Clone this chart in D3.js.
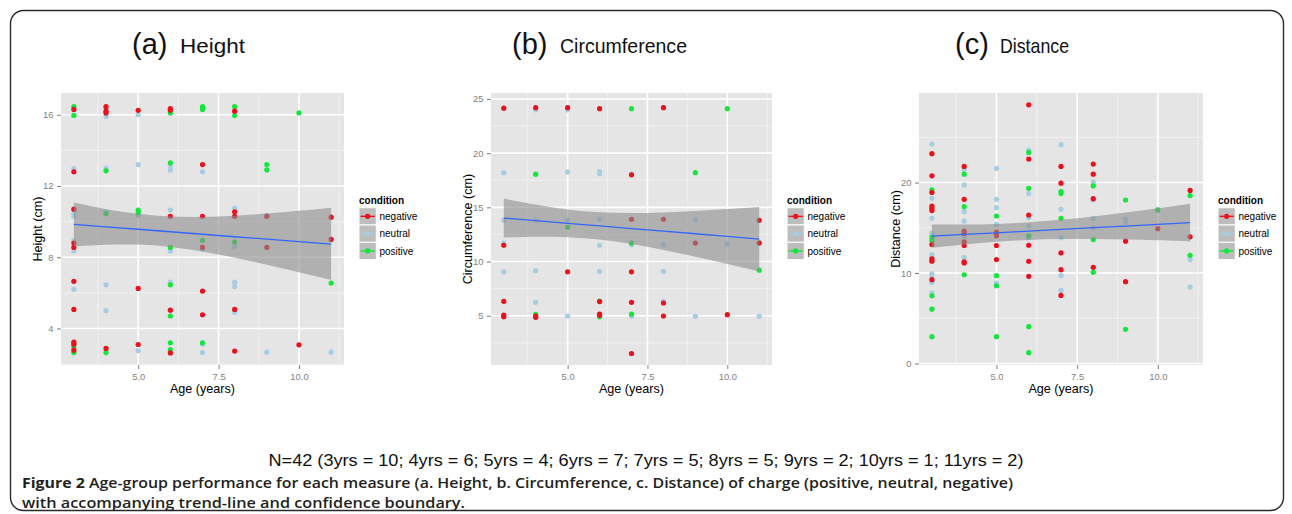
<!DOCTYPE html>
<html><head><meta charset="utf-8">
<script src="https://cdn.jsdelivr.net/npm/d3@7"></script>
<style>body{margin:0;background:#fff} svg{display:block}</style>
</head><body><svg id="chart" width="1292" height="514"></svg>
<script>
// ---------------- DATA ----------------
const conditions = ["negative", "neutral", "positive"];
const conditionColors = ["#e8111c", "#a6cde0", "#14e63c"];
const ageDomain = [2.6, 11.4];
const ageTicks = [5.0, 7.5, 10.0];
const ageMinor = [3.75, 6.25, 8.75, 11.25];

const heightTicks = [4, 8, 12, 16];
const heightMinor = [2, 6, 10, 14];
const circTicks = [5, 10, 15, 20, 25];
const circMinor = [2.5, 7.5, 12.5, 17.5, 22.5];
const distTicks = [0, 10, 20];
const distMinor = [5, 15, 25];

// Height (cm): [age, value]
const heightNegative = [[3,16.3],[3,12.8],[3,10.7],[3,8.8],[3,8.55],[3,6.65],[3,5.07],[3,3.23],[3,3.12],[3,2.78],
  [4,16.45],[4,16.2],[4,16.1],[4,2.88],[5,16.25],[5,6.25],[5,3.1],[6,16.35],[6,16.25],[6,10.3],[6,5.03],[6,2.63],
  [7,13.2],[7,10.3],[7,8.55],[7,6.1],[7,4.77],[8,16.2],[8,10.55],[8,10.3],[8,5.07],[8,2.73],[9,10.3],[9,8.55],
  [10,3.08],[11,10.25],[11,9.0]];
const heightNeutral = [[3,12.98],[3,10.45],[3,10.3],[3,8.95],[3,8.35],[3,6.2],[4,15.9],[4,13.0],[4,10.55],[4,6.45],[4,5.0],
  [5,16.0],[5,13.2],[5,10.35],[5,2.75],[6,13.15],[6,12.9],[6,10.65],[6,8.35],[6,6.6],[7,12.8],[7,8.45],[7,3.12],[7,2.65],
  [8,10.75],[8,8.6],[8,6.6],[8,6.35],[8,4.9],[9,10.35],[9,2.67],[11,2.67]];
const heightPositive = [[3,16.45],[3,15.96],[3,2.97],[3,2.65],[4,12.85],[4,10.45],[4,2.65],[5,10.65],[5,10.5],
  [6,16.1],[6,13.3],[6,8.55],[6,6.45],[6,4.7],[6,3.2],[6,2.82],[7,16.45],[7,16.3],[7,8.95],[7,3.2],
  [8,16.45],[8,15.95],[8,8.85],[9,13.2],[9,12.9],[10,16.1],[11,6.55]];

// Circumference (cm)
const circNegative = [[3,24.15],[3,11.5],[3,6.33],[3,5.06],[3,4.9],[4,24.2],[4,4.97],[4,4.85],[5,24.2],[5,9.05],
  [6,24.1],[6,6.3],[6,5.15],[6,5.03],[7,18.0],[7,13.9],[7,9.05],[7,6.23],[7,1.51],[8,24.2],[8,13.9],[8,6.17],[8,4.97],
  [9,11.7],[10,5.09],[11,13.8],[11,11.7]];
const circNeutral = [[3,18.2],[3,13.8],[3,11.7],[3,9.04],[4,24.0],[4,18.1],[4,13.8],[4,9.15],[4,6.23],[5,24.0],[5,18.25],
  [5,13.8],[5,4.97],[6,18.3],[6,18.1],[6,13.9],[6,11.5],[6,9.1],[7,18.1],[7,11.55],[7,4.94],[8,11.55],[8,9.1],[8,6.33],
  [9,13.9],[9,4.94],[10,11.6],[11,11.75],[11,4.94]];
const circPositive = [[4,18.05],[4,5.12],[5,13.15],[6,6.35],[6,4.9],[7,24.1],[7,11.7],[7,5.15],[9,18.2],[10,24.1],[11,9.2]];

// Distance (cm)
const distNegative = [[3,23.19],[3,20.74],[3,18.9],[3,17.4],[3,17.15],[3,16.9],[3,13.15],[3,11.56],[3,11.3],[3,9.26],
  [4,21.78],[4,18.15],[4,14.63],[4,14.37],[4,13.44],[4,13.04],[4,11.22],[4,11.11],[5,14.52],[5,14.33],[5,14.11],[5,13.04],[5,11.48],
  [6,28.59],[6,22.59],[6,16.41],[6,13.07],[6,11.3],[6,9.63],[7,21.78],[7,19.93],[7,12.22],[7,10.37],[7,7.52],
  [8,22.04],[8,20.93],[8,18.22],[8,10.63],[9,13.52],[9,9.04],[10,14.9],[11,19.13],[11,14.0]];
const distNeutral = [[3,24.26],[3,18.26],[3,16.04],[3,14.44],[3,14.26],[3,12.04],[3,11.85],[3,9.9],[3,9.63],[3,9.1],[3,8.96],[3,7.78],
  [4,21.48],[4,19.74],[4,16.78],[4,15.74],[4,14.07],[4,11.74],[5,21.56],[5,18.15],[5,17.22],[5,15.37],[5,8.89],
  [6,23.59],[6,18.78],[6,16.11],[6,15.19],[6,13.89],[7,24.19],[7,17.04],[7,13.89],[7,9.7],[7,8.07],
  [8,20.07],[8,18.07],[8,16.04],[8,15.0],[9,15.93],[9,15.63],[10,17.05],[11,11.48],[11,8.44]];
const distPositive = [[3,19.19],[3,13.96],[3,13.6],[3,7.48],[3,6.0],[3,2.96],[4,20.93],[4,17.33],[4,9.81],
  [5,16.3],[5,9.7],[5,8.59],[5,2.96],[6,23.33],[6,19.37],[6,14.11],[6,4.07],[6,1.19],[7,19.0],[7,18.78],[7,16.04],
  [8,19.63],[8,13.7],[8,10.07],[9,18.07],[9,3.78],[10,16.96],[11,18.56],[11,11.96]];

// Trend line and confidence band, read at each age
const trendAges = [3, 4, 5, 6, 7, 8, 9, 10, 11];
const heightFit   = [9.84, 9.70, 9.57, 9.43, 9.29, 9.15, 9.02, 8.88, 8.74];
const heightUpper = [11.07, 10.70, 10.44, 10.28, 10.26, 10.33, 10.46, 10.61, 10.78];
const heightLower = [8.61, 8.70, 8.71, 8.58, 8.32, 7.97, 7.58, 7.15, 6.72];
const circFit   = [14.01, 13.77, 13.52, 13.28, 13.04, 12.80, 12.56, 12.31, 12.07];
const circUpper = [15.81, 15.25, 14.80, 14.54, 14.47, 14.53, 14.67, 14.84, 15.04];
const circLower = [12.21, 12.29, 12.24, 12.02, 11.61, 11.07, 10.45, 9.78, 9.10];
const distFit   = [14.07, 14.26, 14.44, 14.63, 14.82, 15.01, 15.19, 15.38, 15.57];
const distUpper = [15.35, 15.36, 15.43, 15.61, 15.89, 16.25, 16.68, 17.15, 17.67];
const distLower = [12.79, 13.16, 13.45, 13.65, 13.75, 13.77, 13.70, 13.61, 13.47];

const panelLetters = ["(a)", "(b)", "(c)"];
const panelNames = ["Height", "Circumference", "Distance"];
const yTitles = ["Height (cm)", "Circumference (cm)", "Distance (cm)"];
const xTitle = "Age (years)";
const legendTitle = "condition";
const sampleNote = "N=42 (3yrs = 10; 4yrs = 6; 5yrs = 4; 6yrs = 7; 7yrs = 5; 8yrs = 5; 9yrs = 2; 10yrs = 1; 11yrs = 2)";
const captionBold = "Figure 2";
const captionLine1 = " Age-group performance for each measure (a. Height, b. Circumference, c. Distance) of charge (positive, neutral, negative)";
const captionLine2 = "with accompanying trend-line and confidence boundary.";

// ---------------- LAYOUT ----------------
const panels = [
  {x0: 61, x1: 344, yDomain: [1.95, 17.22], ticks: heightTicks, minor: heightMinor,
   series: [heightNeutral, heightPositive, heightNegative], fit: heightFit, up: heightUpper, lo: heightLower,
   tx: 132, tw: 48, nameLen: 65},
  {x0: 491, x1: 772, yDomain: [0.45, 25.55], ticks: circTicks, minor: circMinor,
   series: [circNeutral, circPositive, circNegative], fit: circFit, up: circUpper, lo: circLower,
   tx: 512, tw: 48, nameLen: 127},
  {x0: 919, x1: 1203, yDomain: [-0.17, 29.9], ticks: distTicks, minor: distMinor,
   series: [distNeutral, distPositive, distNegative], fit: distFit, up: distUpper, lo: distLower,
   tx: 955, tw: 45, nameLen: 69}
];
const seriesColorIdx = [1, 2, 0];
const yTop = 93, yBot = 365;

const svg = d3.select("#chart");
svg.append("rect").attr("width", 1292).attr("height", 514).attr("fill", "#fff");
svg.append("rect").attr("x", 10.5).attr("y", 10.5).attr("width", 1273).attr("height", 500)
  .attr("rx", 13).attr("fill", "none").attr("stroke", "#2a2a2a").attr("stroke-width", 1.4);

const axisFont = "'Liberation Sans', Arial, Helvetica, sans-serif";

panels.forEach((p, i) => {
  const g = svg.append("g");
  const x = d3.scaleLinear().domain(ageDomain).range([p.x0, p.x1]);
  const y = d3.scaleLinear().domain(p.yDomain).range([yBot, yTop]);

  // title
  svg.append("text").attr("x", p.tx).attr("y", 54).attr("font-family", axisFont).attr("fill", "#111")
    .attr("font-size", 29).text(panelLetters[i]);
  svg.append("text").attr("x", p.tx + p.tw).attr("y", 53).attr("font-family", axisFont).attr("fill", "#111")
    .attr("font-size", 21).attr("textLength", p.nameLen).attr("lengthAdjust", "spacingAndGlyphs").text(panelNames[i]);

  // panel background
  g.append("rect").attr("x", p.x0).attr("y", yTop).attr("width", p.x1 - p.x0).attr("height", yBot - yTop)
    .attr("fill", "#e5e5e5");
  // minor grid
  g.selectAll(".vmin").data(ageMinor.filter(d => d < ageDomain[1])).join("line")
    .attr("x1", d => x(d)).attr("x2", d => x(d)).attr("y1", yTop).attr("y2", yBot)
    .attr("stroke", "#f2f2f2").attr("stroke-width", 0.8);
  g.selectAll(".hmin").data(p.minor.filter(d => d > p.yDomain[0] && d < p.yDomain[1])).join("line")
    .attr("y1", d => y(d)).attr("y2", d => y(d)).attr("x1", p.x0).attr("x2", p.x1)
    .attr("stroke", "#f2f2f2").attr("stroke-width", 0.8);
  // major grid
  g.selectAll(".vmaj").data(ageTicks).join("line")
    .attr("x1", d => x(d)).attr("x2", d => x(d)).attr("y1", yTop).attr("y2", yBot)
    .attr("stroke", "#fff").attr("stroke-width", 1.6);
  g.selectAll(".hmaj").data(p.ticks).join("line")
    .attr("y1", d => y(d)).attr("y2", d => y(d)).attr("x1", p.x0).attr("x2", p.x1)
    .attr("stroke", "#fff").attr("stroke-width", 1.6);

  // points
  p.series.forEach((s, k) => {
    g.append("g").selectAll("circle").data(s).join("circle")
      .attr("cx", d => x(d[0])).attr("cy", d => y(d[1])).attr("r", 2.6)
      .attr("fill", conditionColors[seriesColorIdx[k]]);
  });

  // confidence band
  const bandData = trendAges.map((a, j) => ({a, lo: p.lo[j], up: p.up[j], f: p.fit[j]}));
  g.append("path").datum(bandData)
    .attr("d", d3.area().curve(d3.curveCatmullRom).x(d => x(d.a)).y0(d => y(d.lo)).y1(d => y(d.up)))
    .attr("fill", "#8c8c8c").attr("fill-opacity", 0.6);
  g.append("path").datum(bandData)
    .attr("d", d3.line().x(d => x(d.a)).y(d => y(d.f)))
    .attr("fill", "none").attr("stroke", "#3366ff").attr("stroke-width", 1.3);

  // axes
  const ax = g.append("g").attr("transform", `translate(0,${yBot})`)
    .call(d3.axisBottom(x).tickValues(ageTicks).tickFormat(d3.format(".1f")).tickSize(4).tickPadding(4));
  const ay = g.append("g").attr("transform", `translate(${p.x0},0)`)
    .call(d3.axisLeft(y).tickValues(p.ticks).tickFormat(d3.format("d")).tickSize(4).tickPadding(3.5));
  [ax, ay].forEach(a => {
    a.select(".domain").remove();
    a.selectAll(".tick line").attr("stroke", "#7f7f7f").attr("stroke-width", 1);
    a.selectAll(".tick text").attr("fill", "#7f7f7f").attr("font-size", 9.4).attr("font-family", axisFont);
  });

  // axis titles
  g.append("text").attr("x", (p.x0 + p.x1) / 2).attr("y", 393).attr("text-anchor", "middle")
    .attr("font-family", axisFont).attr("font-size", 12.6).attr("fill", "#000").text(xTitle);
  g.append("text").attr("transform", `translate(${p.x0 - 19},${(yTop + yBot) / 2}) rotate(-90)`)
    .attr("text-anchor", "middle").attr("font-family", axisFont).attr("font-size", 12.6)
    .attr("fill", "#000").text(yTitles[i]);

  // legend
  const lx = p.x1 + 15;
  const lg = g.append("g");
  lg.append("text").attr("x", lx).attr("y", 203.5).attr("font-family", axisFont).attr("font-size", 10)
    .attr("font-weight", "bold").text(legendTitle);
  conditions.forEach((c, k) => {
    const ky = 207.7 + k * 17.3;
    lg.append("rect").attr("x", lx).attr("y", ky).attr("width", 17.3).attr("height", 17.3)
      .attr("fill", "#bdbdbd").attr("stroke", "#fff").attr("stroke-width", 1);
    lg.append("line").attr("x1", lx + 1.5).attr("x2", lx + 15.8).attr("y1", ky + 8.65).attr("y2", ky + 8.65)
      .attr("stroke", conditionColors[k]).attr("stroke-width", 1.4);
    lg.append("circle").attr("cx", lx + 8.65).attr("cy", ky + 8.65).attr("r", 2.6).attr("fill", conditionColors[k]);
    lg.append("text").attr("x", lx + 20.5).attr("y", ky + 12.4).attr("font-family", axisFont).attr("font-size", 10)
      .attr("fill", "#000").text(c);
  });
});

// notes and caption
svg.append("text").attr("x", 646).attr("y", 466).attr("text-anchor", "middle")
  .attr("font-family", axisFont).attr("font-size", 17).attr("fill", "#111")
  .attr("textLength", 755).attr("lengthAdjust", "spacingAndGlyphs").text(sampleNote);
const capFont = "'Open Sans', 'Noto Sans', sans-serif";
const c1 = svg.append("text").attr("x", 22).attr("y", 488).attr("font-family", capFont)
  .attr("font-size", 14.2).attr("fill", "#231f20").attr("textLength", 991).attr("lengthAdjust", "spacingAndGlyphs");
c1.append("tspan").attr("font-weight", 700).text(captionBold);
c1.append("tspan").attr("font-weight", 600).text(captionLine1);
svg.append("text").attr("x", 22).attr("y", 507.5).attr("font-family", capFont)
  .attr("font-size", 14.2).attr("font-weight", 600).attr("fill", "#231f20")
  .attr("textLength", 443).attr("lengthAdjust", "spacingAndGlyphs").text(captionLine2);
</script></body></html>
